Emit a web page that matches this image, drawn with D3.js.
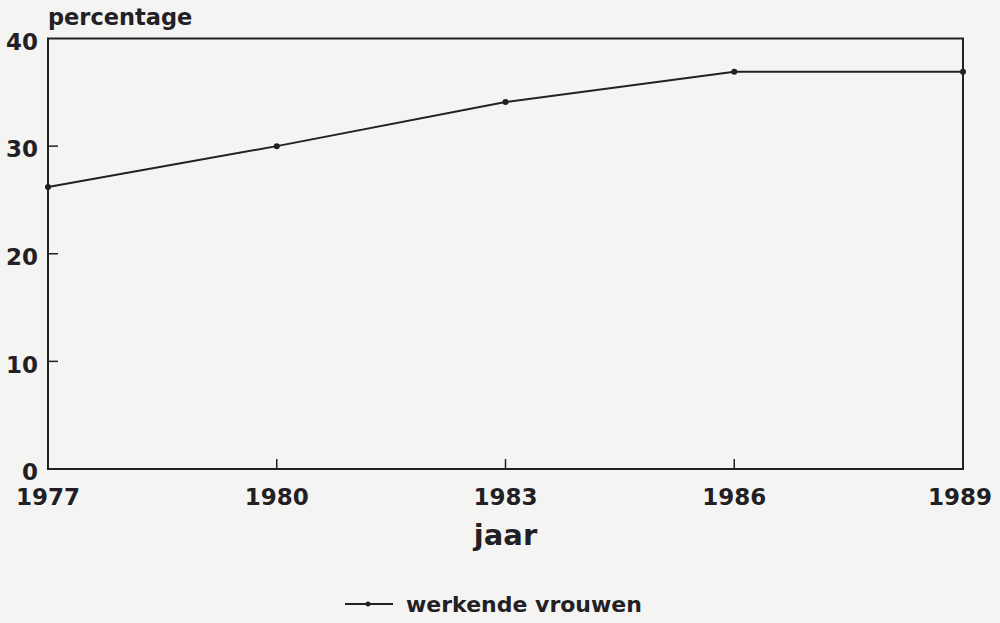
<!DOCTYPE html>
<html>
<head>
<meta charset="utf-8">
<script src="https://cdn.jsdelivr.net/npm/d3@7"></script>
<style>
  html, body { margin: 0; padding: 0; background: #f4f4f2; }
  svg { display: block; }
  text { font-family: "DejaVu Sans", sans-serif; font-weight: bold; fill: #231f24; }
</style>
</head>
<body>
<div id="chart"></div>
<script>
// data
const years = [1977, 1980, 1983, 1986, 1989];
const percentages = [26.2, 30.0, 34.1, 36.9, 36.9];
const yTicks = [0, 10, 20, 30, 40];
const seriesName = 'werkende vrouwen';

const width = 1000;
const height = 623;
const margin = {top: 38.5, right: 37, bottom: 154, left: 48};
const ink = '#231f24';

const svg = d3.select('#chart').append('svg')
    .attr('width', width)
    .attr('height', height);

const x = d3.scaleLinear()
    .domain([1977, 1989])
    .range([margin.left, width - margin.right]);

const y = d3.scaleLinear()
    .domain([0, 40])
    .range([height - margin.bottom, margin.top]);

// frame
svg.append('rect')
    .attr('x', x(1977))
    .attr('y', y(40))
    .attr('width', x(1989) - x(1977))
    .attr('height', y(0) - y(40))
    .attr('fill', 'none')
    .attr('stroke', ink)
    .attr('stroke-width', 2);

// inward ticks
svg.selectAll('.ytick')
    .data(yTicks.filter(function(d) { return d > 0 && d < 40; }))
  .enter().append('line')
    .attr('x1', x(1977))
    .attr('x2', x(1977) + 10)
    .attr('y1', function(d) { return y(d); })
    .attr('y2', function(d) { return y(d); })
    .attr('stroke', ink)
    .attr('stroke-width', 1.5);

svg.selectAll('.xtick')
    .data(years.slice(1, -1))
  .enter().append('line')
    .attr('x1', function(d) { return x(d); })
    .attr('x2', function(d) { return x(d); })
    .attr('y1', y(0))
    .attr('y2', y(0) - 10)
    .attr('stroke', ink)
    .attr('stroke-width', 1.5);

// tick labels
svg.selectAll('.ylabel')
    .data(yTicks)
  .enter().append('text')
    .attr('x', x(1977) - 10)
    .attr('y', function(d) { return y(d) + 3; })
    .attr('dy', '0.36em')
    .attr('text-anchor', 'end')
    .attr('font-size', 23)
    .text(function(d) { return d; });

svg.selectAll('.xlabel')
    .data(years)
  .enter().append('text')
    .attr('x', function(d, i) { return x(d) - (i === years.length - 1 ? 3 : 0); })
    .attr('y', 505)
    .attr('text-anchor', 'middle')
    .attr('font-size', 23)
    .text(function(d) { return d; });

// axis titles
svg.append('text')
    .attr('x', x(1977))
    .attr('y', 25)
    .attr('font-size', 22.5)
    .text('percentage');

svg.append('text')
    .attr('x', x(1983))
    .attr('y', 545)
    .attr('text-anchor', 'middle')
    .attr('font-size', 29)
    .text('jaar');

// series line
const pts = years.map(function(d, i) { return [d, percentages[i]]; });

svg.append('path')
    .datum(pts)
    .attr('fill', 'none')
    .attr('stroke', ink)
    .attr('stroke-width', 2)
    .attr('d', d3.line()
        .x(function(d) { return x(d[0]); })
        .y(function(d) { return y(d[1]); }));

svg.selectAll('.dot')
    .data(pts)
  .enter().append('circle')
    .attr('cx', function(d) { return x(d[0]); })
    .attr('cy', function(d) { return y(d[1]); })
    .attr('r', 3)
    .attr('fill', ink);

// legend
const lg = svg.append('g').attr('transform', 'translate(345,612)');
lg.append('line')
    .attr('x1', 0).attr('x2', 48)
    .attr('y1', -8).attr('y2', -8)
    .attr('stroke', ink)
    .attr('stroke-width', 2);
lg.append('circle')
    .attr('cx', 23).attr('cy', -8).attr('r', 2.5)
    .attr('fill', ink);
lg.append('text')
    .attr('x', 61)
    .attr('y', 0)
    .attr('font-size', 22)
    .text(seriesName);
</script>
</body>
</html>
